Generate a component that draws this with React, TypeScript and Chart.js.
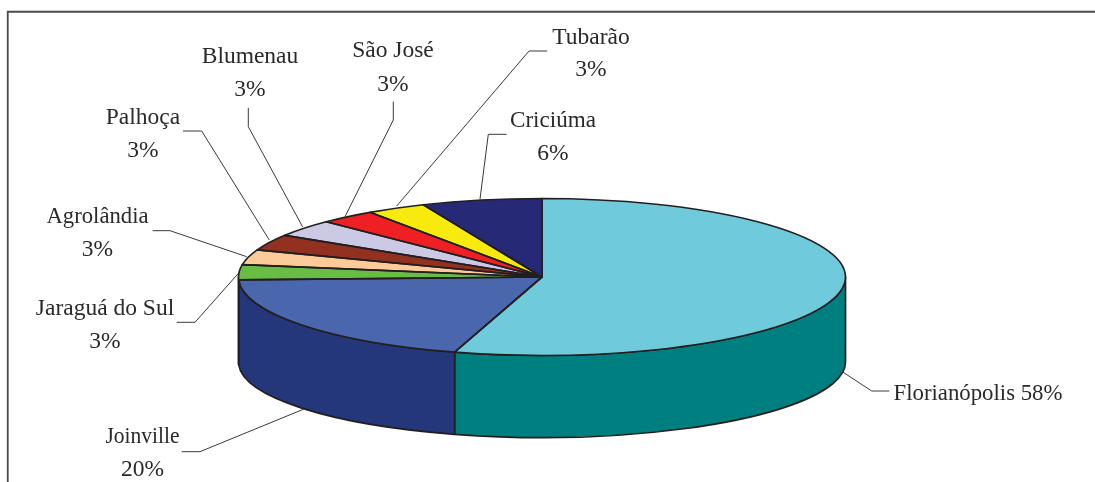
import React, { useEffect, useRef } from "react";
import { Chart, registerables } from "chart.js";

Chart.register(...registerables);

const cities = ["Florianópolis", "Joinville", "Jaraguá do Sul", "Agrolândia", "Palhoça", "Blumenau", "São José", "Tubarão", "Criciúma"];
const sliceShares = [54.7, 19.8, 3.1, 3.1, 3.3, 3.5, 3.0, 3.2, 6.4];
const printedShares = ["58%", "20%", "3%", "3%", "3%", "3%", "3%", "3%", "6%"];
const topColors = ["#6fcbdc", "#4a67ae", "#69bd45", "#fdca99", "#933121", "#ccc9e5", "#ee2024", "#f6eb0c", "#262a76"];
const sideColors = ["#007f80", "#24377b", "#4f8f34", "#c99f78", "#6f2518", "#9c9ab0", "#b5181b", "#bdb409", "#1b1e58"];

const ELLIPSE = { cx: 542, cy: 277, rx: 303.5, ry: 78.5, baseCy: 362, baseRy: 75.5 };
const FONT = '23.5px "Liberation Serif"';
const TEXT = "#2b2a29";
const OUTLINE = "#231f20";

type Caption = { x: number; lines: [string, number, number?][]; leader: [number, number][] };
const captions: Caption[] = [
  { x: 978, lines: [[`${cities[0]} ${printedShares[0]}`, 400, 169]], leader: [[889.3, 391], [871.7, 391], [842.3, 371.7]] },
  { x: 142.5, lines: [[cities[1], 443, 74], [printedShares[1], 476]], leader: [[181.7, 451.7], [200, 451.7], [304, 409]] },
  { x: 105, lines: [[cities[2], 315], [printedShares[2], 348]], leader: [[176.7, 322.3], [195, 322.3], [239.3, 272.3]] },
  { x: 97.5, lines: [[cities[3], 223, 102], [printedShares[3], 256]], leader: [[152.7, 230.7], [170, 230.7], [246.7, 256.7]] },
  { x: 143, lines: [[cities[4], 124], [printedShares[4], 157]], leader: [[183, 131], [201.7, 131], [269.3, 240]] },
  { x: 250, lines: [[cities[5], 63], [printedShares[5], 96]], leader: [[248.3, 108], [248.3, 126.7], [302.7, 227]] },
  { x: 393, lines: [[cities[6], 57], [printedShares[6], 90.5]], leader: [[393.3, 101.7], [393.3, 120], [345, 216.7]] },
  { x: 591, lines: [[cities[7], 44], [printedShares[7], 76]], leader: [[547.3, 51], [529, 51], [396.7, 206]] },
  { x: 553, lines: [[cities[8], 126.7, 86], [printedShares[8], 160]], leader: [[506.7, 134.3], [488.3, 134.3], [480, 199]] },
];

const tiltedPie = {
  id: "tiltedPie",
  beforeDatasetsDraw(chart: any) {
    const { ctx } = chart;
    const arcs = chart.getDatasetMeta(0).data;
    const { cx, cy, rx, ry, baseCy, baseRy } = ELLIPSE;
    ctx.save();
    ctx.lineJoin = "round";
    ctx.lineWidth = 1.7;
    ctx.strokeStyle = OUTLINE;
    arcs.forEach((arc: any, i: number) => {
      const s = Math.max(arc.startAngle, 0);
      const e = Math.min(arc.endAngle, Math.PI);
      if (e <= s) return;
      ctx.beginPath();
      ctx.ellipse(cx, cy, rx, ry, 0, s, e);
      ctx.ellipse(cx, baseCy, rx, baseRy, 0, e, s, true);
      ctx.closePath();
      ctx.fillStyle = sideColors[i];
      ctx.fill();
      ctx.stroke();
    });
    ctx.restore();
    const first = arcs[0];
    ctx.save();
    ctx.translate(cx, cy);
    ctx.scale(rx / first.outerRadius, ry / first.outerRadius);
    ctx.translate(-first.x, -first.y);
  },
  afterDatasetsDraw(chart: any) {
    const { ctx } = chart;
    ctx.restore();
    const arcs = chart.getDatasetMeta(0).data;
    const { cx, cy, rx, ry } = ELLIPSE;
    ctx.save();
    ctx.lineJoin = "round";
    ctx.lineWidth = 1.7;
    ctx.strokeStyle = OUTLINE;
    arcs.forEach((arc: any) => {
      ctx.beginPath();
      ctx.moveTo(cx, cy);
      ctx.ellipse(cx, cy, rx, ry, 0, arc.startAngle, arc.endAngle);
      ctx.closePath();
      ctx.stroke();
    });
    ctx.strokeStyle = "#3a3a3a";
    ctx.lineWidth = 1;
    captions.forEach((c) => {
      ctx.beginPath();
      c.leader.forEach(([x, y], k) => (k ? ctx.lineTo(x, y) : ctx.moveTo(x, y)));
      ctx.stroke();
    });
    ctx.fillStyle = TEXT;
    ctx.font = FONT;
    ctx.textAlign = "center";
    ctx.textBaseline = "alphabetic";
    captions.forEach((c) =>
      c.lines.forEach(([t, y, w]) => (w ? ctx.fillText(t, c.x, y, w) : ctx.fillText(t, c.x, y)))
    );
    ctx.restore();
  },
};

const framePlugin = {
  id: "frame",
  beforeDraw(chart: any) {
    const { ctx, width, height } = chart;
    ctx.save();
    ctx.fillStyle = "#ffffff";
    ctx.fillRect(0, 0, width, height);
    ctx.strokeStyle = "#4a4a4a";
    ctx.lineWidth = 1.8;
    ctx.beginPath();
    ctx.moveTo(7.75, height);
    ctx.lineTo(7.75, 11.75);
    ctx.lineTo(width, 11.75);
    ctx.stroke();
    ctx.restore();
  },
};

export default function App() {
  const ref = useRef<HTMLCanvasElement>(null);
  useEffect(() => {
    document.body.style.margin = "0";
    const chart = new Chart(ref.current!, {
      type: "pie",
      data: {
        labels: cities,
        datasets: [{ data: sliceShares, backgroundColor: topColors, borderWidth: 0 }],
      },
      options: {
        responsive: false,
        animation: false,
        plugins: { legend: { display: false }, tooltip: { enabled: false } },
      },
      plugins: [framePlugin, tiltedPie],
    });
    return () => chart.destroy();
  }, []);
  return <canvas ref={ref} width={1095} height={482} style={{ display: "block" }} />;
}
